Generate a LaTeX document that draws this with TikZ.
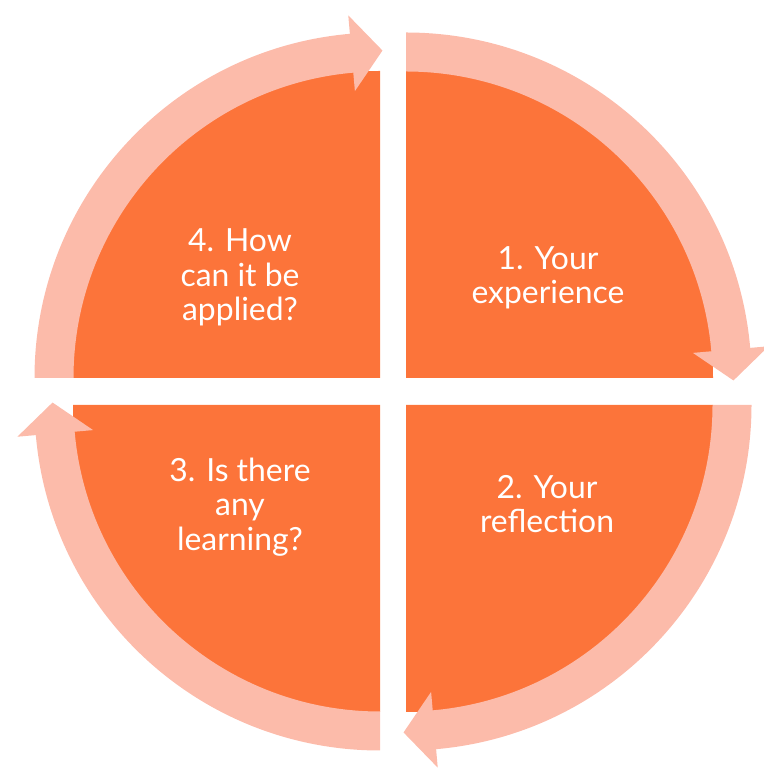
\documentclass[tikz,border=0pt]{standalone}
\usepackage{fontspec}
\setmainfont{Lato}
\usetikzlibrary{calc}
\definecolor{quadorange}{RGB}{252,116,58}
\definecolor{arrowpink}{RGB}{252,187,170}
\newcommand\cyclearrow[3]{%
  \fill[arrowpink] ($(#1)+(#2:345.5)$) arc[start angle=#2, end angle=#3, radius=345.5]
    -- ($(#1)+(#3:364)$) -- ($(#1)+(#3:326)+(#3-90:31)$) -- ($(#1)+(#3:288)$)
    -- ($(#1)+(#3:306.5)$) arc[start angle=#3, end angle=#2, radius=306.5] -- cycle;}
\begin{document}
\begin{tikzpicture}[x=1bp,y=1bp,
  quad/.style={fill=quadorange},
  lbl/.style={text=white, align=center, inner sep=0pt, font=\fontsize{32}{34.5}\selectfont}]
\useasboundingbox (0,0) rectangle (764,772);
\coordinate (C1) at (406,394);
\coordinate (C2) at (406,367);
\coordinate (C3) at (380,367);
\coordinate (C4) at (380,394);
% quadrants
\fill[quad] (C1) -- ++(0:307) arc[start angle=0, end angle=90, radius=307] -- cycle;
\fill[quad] (C2) -- ++(-90:307) arc[start angle=-90, end angle=0, radius=307] -- cycle;
\fill[quad] (C3) -- ++(180:307) arc[start angle=180, end angle=270, radius=307] -- cycle;
\fill[quad] (C4) -- ++(90:307) arc[start angle=90, end angle=180, radius=307] -- cycle;
% arrows
\cyclearrow{C1}{90}{5}
\cyclearrow{C2}{0}{-85}
\cyclearrow{C3}{-90}{-175}
\cyclearrow{C4}{180}{95}
% labels
\node[lbl] (t1) at (548,494) {1. Your\\experience};
\node[lbl] (t2) at (547,268) {2. Your\\reflection};
\node[lbl] (t3) at (240,265) {3. Is there\\any\\learning?};
\node[lbl] (t4) at (240,494.5) {4. How\\can it be\\applied?};
\end{tikzpicture}
\end{document}
